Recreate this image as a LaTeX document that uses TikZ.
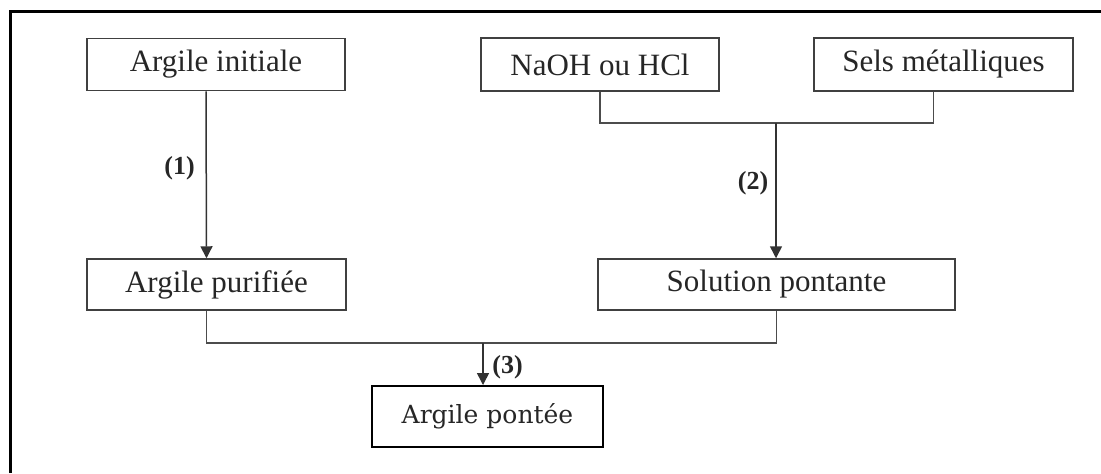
\documentclass[tikz,border=0pt]{standalone}
\usepackage{fontspec}
\setmainfont{Liberation Serif}
\newfontfamily\pontfont{DejaVu Serif}
\usetikzlibrary{arrows.meta,calc}

\tikzset{
  boite/.style={draw=black!75, line width=0.75pt, minimum height=25.5pt,
    inner sep=0pt, text=black!85, font=\fontsize{15.5}{18}\selectfont},
  fleche/.style={-{Triangle[length=6pt,width=6pt]}, draw=black!80, line width=0.75pt},
  lien/.style={draw=black!70, line width=0.75pt},
  etape/.style={text=black!85, font=\bfseries\fontsize{13}{15}\selectfont}
}

\begin{document}
\begin{tikzpicture}[x=0.5pt,y=-0.5pt]
    \useasboundingbox (0,0) rectangle (1101,473);
    % cadre
    \draw[line width=1.5pt] (10,473) |- (1101,11);

    \node[boite, minimum width=129pt, minimum height=26pt]
         (ini) at (216,64.5) {Argile initiale};
    \node[boite, minimum width=119pt, minimum height=26.5pt]
         (naoh) at (600,64.5) {NaOH ou HCl};
    \node[boite, minimum width=129.5pt, minimum height=26.5pt]
         (sels) at (943.5,64.5) {Sels métalliques};
    \node[boite, minimum width=129.5pt] (puri) at (216.5,284.5) {Argile purifiée};
    \node[boite, minimum width=178.5pt] (sol) at (776.5,284.5) {Solution pontante};
    \node[boite, minimum width=115.5pt, minimum height=30.5pt, draw=black,
          line width=1pt, font=\pontfont\fontsize{12.5}{15}\selectfont]
         (pont) at (487.5,416.5) {Argile pontée};

    \node[etape] (l1) at (179.5,168) {(1)};
    \node[etape] (l2) at (753,183) {(2)};
    \node[etape] (l3) at (507.5,367) {(3)};

    \coordinate (j2) at (776,123);
    \coordinate (j3) at (483,343);

    %edges
    \draw[fleche] ([xshift=-5pt]ini.south) -- ([xshift=-5pt]puri.north);
    \draw[lien] (naoh.south) |- (j2) -| ([xshift=-5pt]sels.south);
    \draw[fleche] (j2) -- (j2 |- sol.north);
    \draw[lien] ([xshift=-5pt]puri.south) |- (j3) -| (sol.south);
    \draw[fleche] (j3) -- (j3 |- pont.north);
\end{tikzpicture}
\end{document}
